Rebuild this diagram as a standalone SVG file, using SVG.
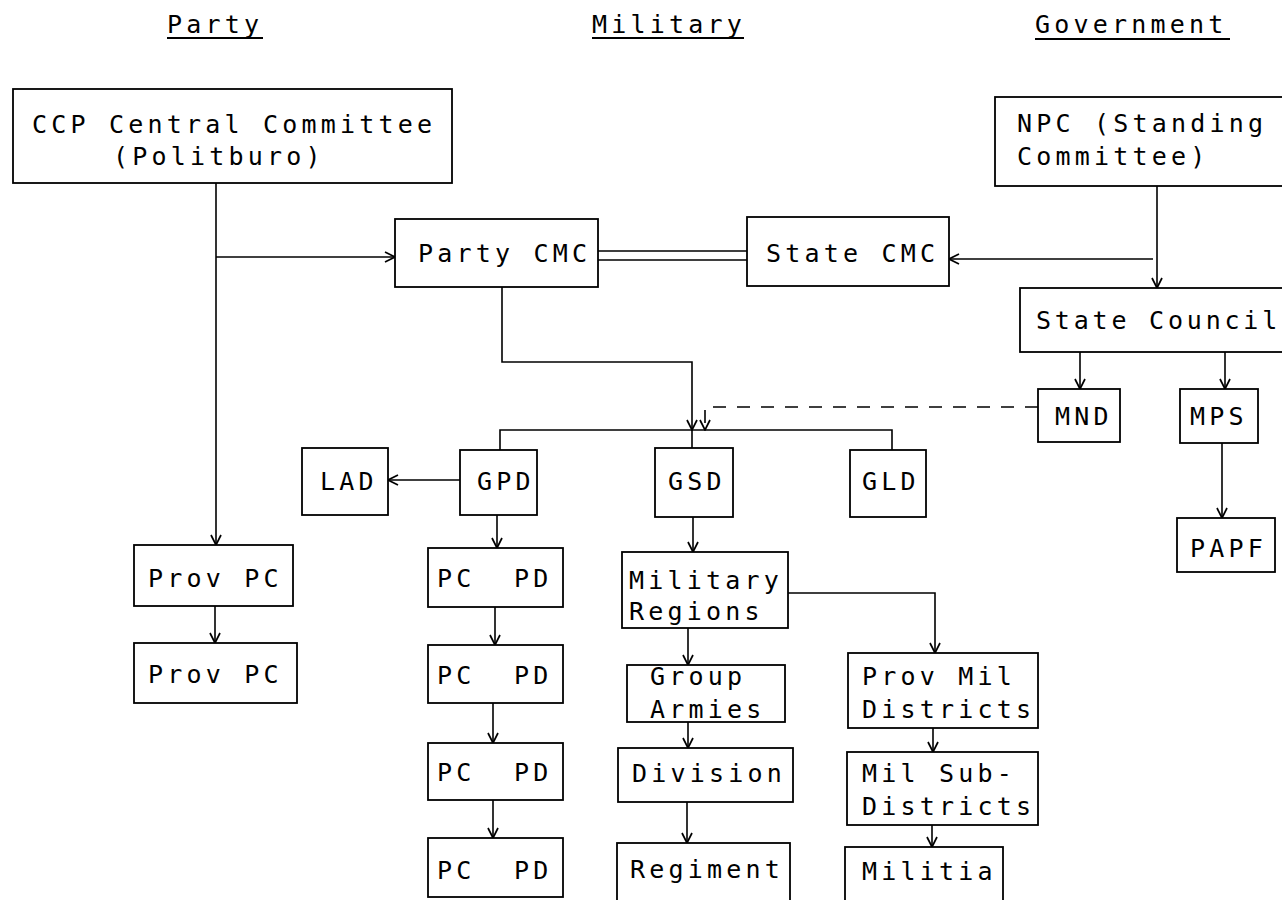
<svg xmlns="http://www.w3.org/2000/svg" width="1282" height="900" viewBox="0 0 1282 900">
<style>
text{font-family:"DejaVu Sans Mono","Liberation Mono",monospace;font-size:25px;letter-spacing:4.2px;fill:#000}
.box{fill:#fff;stroke:#000;stroke-width:1.8}
.c{fill:none;stroke:#000;stroke-width:1.6}
.dash{fill:none;stroke:#000;stroke-width:1.6;stroke-dasharray:13 11}
.ul{stroke:#000;stroke-width:1.8}
</style>
<defs>
<marker id="ah" viewBox="0 0 12 12" refX="11" refY="6" markerWidth="12" markerHeight="12" markerUnits="userSpaceOnUse" orient="auto">
<path d="M1,1 L11,6 L1,11" fill="none" stroke="#000" stroke-width="1.7"/>
</marker>
</defs>
<rect width="1282" height="900" fill="#fff"/>
<g id="headers">
<text x="167" y="33">Party</text><line class="ul" x1="167" y1="38" x2="263" y2="38"/>
<text x="592" y="33">Military</text><line class="ul" x1="592" y1="38" x2="744" y2="38"/>
<text x="1035" y="33">Government</text><line class="ul" x1="1035" y1="39" x2="1230" y2="39"/>
</g>
<g id="connectors">
<path class="c" d="M216,183 V545" marker-end="url(#ah)"/>
<path class="c" d="M216,257 H395" marker-end="url(#ah)"/>
<path class="c" d="M598,251 H747 M598,260 H747"/>
<path class="c" d="M1157,186 V288" marker-end="url(#ah)"/>
<path class="c" d="M1153,259 H949" marker-end="url(#ah)"/>
<path class="c" d="M1080,352 V389" marker-end="url(#ah)"/>
<path class="c" d="M1225,352 V389" marker-end="url(#ah)"/>
<path class="c" d="M1222,443 V518" marker-end="url(#ah)"/>
<path class="dash" d="M1038,407 H705 V430" marker-end="url(#ah)"/>
<path class="c" d="M502,287 V362 H692 V430" marker-end="url(#ah)"/>
<path class="c" d="M500,450 V430 H892 V450 M692,430 V448"/>
<path class="c" d="M460,480 H388" marker-end="url(#ah)"/>
<path class="c" d="M497,515 V548" marker-end="url(#ah)"/>
<path class="c" d="M495,607 V645" marker-end="url(#ah)"/>
<path class="c" d="M493,703 V743" marker-end="url(#ah)"/>
<path class="c" d="M493,800 V838" marker-end="url(#ah)"/>
<path class="c" d="M215,606 V643" marker-end="url(#ah)"/>
<path class="c" d="M693,517 V552" marker-end="url(#ah)"/>
<path class="c" d="M688,628 V665" stroke-width="2.6" marker-end="url(#ah)"/>
<path class="c" d="M688,722 V748" marker-end="url(#ah)"/>
<path class="c" d="M687,802 V843" marker-end="url(#ah)"/>
<path class="c" d="M788,593 H935 V653" marker-end="url(#ah)"/>
<path class="c" d="M933,728 V752" marker-end="url(#ah)"/>
<path class="c" d="M932,825 V847" marker-end="url(#ah)"/>
</g>
<g id="ccp"><rect class="box" x="13" y="89" width="439" height="94"/><text x="32" y="133">CCP Central Committee</text><text x="113" y="165">(Politburo)</text></g>
<g id="party-cmc"><rect class="box" x="395" y="219" width="203" height="68"/><text x="418" y="262">Party CMC</text></g>
<g id="state-cmc"><rect class="box" x="747" y="217" width="202" height="69"/><text x="766" y="262">State CMC</text></g>
<g id="npc"><rect class="box" x="995" y="97" width="300" height="89"/><text x="1017" y="132">NPC (Standing</text><text x="1017" y="165">Committee)</text></g>
<g id="state-council"><rect class="box" x="1020" y="288" width="275" height="64"/><text x="1036" y="329" style="letter-spacing:3.8px">State Council</text></g>
<g id="mnd"><rect class="box" x="1038" y="389" width="82" height="53"/><text x="1055" y="425">MND</text></g>
<g id="mps"><rect class="box" x="1180" y="389" width="78" height="54"/><text x="1190" y="425">MPS</text></g>
<g id="papf"><rect class="box" x="1177" y="518" width="98" height="54"/><text x="1190" y="557">PAPF</text></g>
<g id="lad"><rect class="box" x="302" y="448" width="86" height="67"/><text x="320" y="490">LAD</text></g>
<g id="gpd"><rect class="box" x="460" y="450" width="77" height="65"/><text x="477" y="490">GPD</text></g>
<g id="gsd"><rect class="box" x="655" y="448" width="78" height="69"/><text x="668" y="490">GSD</text></g>
<g id="gld"><rect class="box" x="850" y="450" width="76" height="67"/><text x="862" y="490">GLD</text></g>
<g id="prov-pc-1"><rect class="box" x="134" y="545" width="159" height="61"/><text x="148" y="587">Prov PC</text></g>
<g id="prov-pc-2"><rect class="box" x="134" y="643" width="163" height="60"/><text x="148" y="683">Prov PC</text></g>
<g id="pcpd-1"><rect class="box" x="428" y="548" width="135" height="59"/><text x="437" y="587" xml:space="preserve">PC  PD</text></g>
<g id="pcpd-2"><rect class="box" x="428" y="645" width="135" height="58"/><text x="437" y="684" xml:space="preserve">PC  PD</text></g>
<g id="pcpd-3"><rect class="box" x="428" y="743" width="135" height="57"/><text x="437" y="781" xml:space="preserve">PC  PD</text></g>
<g id="pcpd-4"><rect class="box" x="428" y="838" width="135" height="59"/><text x="437" y="879" xml:space="preserve">PC  PD</text></g>
<g id="military-regions"><rect class="box" x="622" y="552" width="166" height="76"/><text x="629" y="589">Military</text><text x="629" y="620">Regions</text></g>
<g id="group-armies"><rect class="box" x="627" y="665" width="158" height="57"/><text x="650" y="685">Group</text><text x="650" y="718">Armies</text></g>
<g id="division"><rect class="box" x="618" y="748" width="175" height="54"/><text x="632" y="782">Division</text></g>
<g id="regiment"><rect class="box" x="617" y="843" width="173" height="62"/><text x="630" y="878">Regiment</text></g>
<g id="prov-mil"><rect class="box" x="848" y="653" width="190" height="75"/><text x="862" y="685">Prov Mil</text><text x="862" y="718">Districts</text></g>
<g id="mil-sub"><rect class="box" x="847" y="752" width="191" height="73"/><text x="862" y="782">Mil Sub-</text><text x="862" y="815">Districts</text></g>
<g id="militia"><rect class="box" x="845" y="847" width="158" height="60"/><text x="862" y="880">Militia</text></g>
</svg>
